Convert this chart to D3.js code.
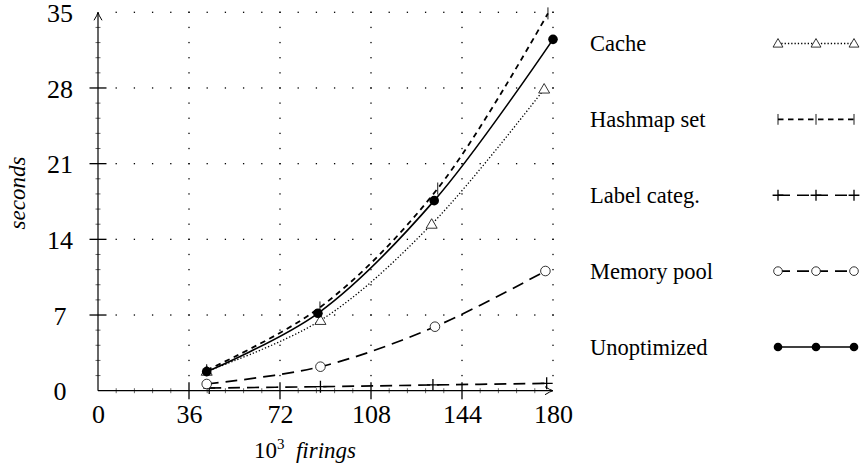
<!DOCTYPE html>
<html>
<head>
<meta charset="utf-8">
<script src="https://cdn.jsdelivr.net/npm/d3@7"></script>
<style>
  body { margin: 0; background: #fff; }
</style>
</head>
<body>
<div id="chart"></div>
<script>
const w = 860,
      h = 467;
const serif = "'Liberation Serif', 'DejaVu Serif', serif";

// data (x in 10^3 firings, y in seconds)
const seriesNames = ["Cache", "Hashmap set", "Label categ.", "Memory pool", "Unoptimized"];
const cacheX = [43, 88, 132, 176.5];
const cacheY = [1.8, 6.5, 15.4, 27.9];
const hashX = [43, 87.8, 134.4, 178];
const hashY = [1.9, 7.7, 18.7, 34.9];
const labelX = [44, 88, 132.5, 177.5];
const labelY = [0.25, 0.37, 0.53, 0.68];
const memX = [43, 88, 133.3, 177];
const memY = [0.62, 2.22, 5.92, 11.07];
const unoptX = [43, 87, 133, 180];
const unoptY = [1.76, 7.16, 17.58, 32.5];

const xTicks = [0, 36, 72, 108, 144, 180];
const yTicks = [0, 7, 14, 21, 28, 35];

const svg = d3.select("#chart")
    .append("svg")
    .attr("width", w)
    .attr("height", h);

const x = d3.scaleLinear().domain([0, 180]).range([98, 553]);
const y = d3.scaleLinear().domain([0, 35]).range([390.7, 12.3]);

// dotted grid: dots at the minor positions along every major line
const grid = svg.append("g");
const xMinor = d3.range(0, 181, 7.2);
const yMinor = d3.range(0, 35.01, 1.4);
yTicks.filter(v => v > 0).forEach(v => {
    grid.selectAll(null).data(xMinor.filter(m => m > 0)).enter()
        .append("rect")
        .attr("x", d => x(d) - 0.65).attr("y", y(v) - 0.65)
        .attr("width", 1.3).attr("height", 1.3).attr("fill", "#000");
});
xTicks.filter(v => v > 0).forEach(v => {
    grid.selectAll(null).data(yMinor.filter(m => m > 0)).enter()
        .append("rect")
        .attr("x", x(v) - 0.65).attr("y", d => y(d) - 0.65)
        .attr("width", 1.3).attr("height", 1.3).attr("fill", "#000");
});

// axes
const ax = svg.append("g").attr("stroke", "#000").attr("fill", "none");
ax.append("line")
    .attr("x1", x(0)).attr("y1", y(0)).attr("x2", x(180)).attr("y2", y(0))
    .attr("stroke-width", 1.2);
ax.append("line")
    .attr("x1", x(0)).attr("y1", y(0)).attr("x2", x(0)).attr("y2", y(35))
    .attr("stroke-width", 1.2);
// arrow heads
ax.append("path")
    .attr("d", `M${x(180) - 8},${y(0) - 4} Q${x(180) - 3},${y(0) - 0.8} ${x(180)},${y(0)} Q${x(180) - 3},${y(0) + 0.8} ${x(180) - 8},${y(0) + 4}`)
    .attr("stroke-width", 1);
ax.append("path")
    .attr("d", `M${x(0) - 4},${y(35) + 8} Q${x(0) - 0.8},${y(35) + 3} ${x(0)},${y(35)} Q${x(0) + 0.8},${y(35) + 3} ${x(0) + 4},${y(35) + 8}`)
    .attr("stroke-width", 1);

// minor ticks
ax.selectAll(null).data(xMinor.filter(m => m > 0 && m < 180 && m % 36 !== 0)).enter()
    .append("line")
    .attr("x1", d => x(d)).attr("x2", d => x(d))
    .attr("y1", y(0) - 2.5).attr("y2", y(0) + 2.5)
    .attr("stroke-width", 0.6);
ax.selectAll(null).data(yMinor.filter(m => m > 0 && m < 35 && Math.abs(m / 7 - Math.round(m / 7)) > 0.01)).enter()
    .append("line")
    .attr("y1", d => y(d)).attr("y2", d => y(d))
    .attr("x1", x(0) - 2.5).attr("x2", x(0) + 2.5)
    .attr("stroke-width", 0.6);

// major ticks crossing the axes
ax.selectAll(null).data(xTicks.filter(v => v > 0 && v < 180)).enter()
    .append("line")
    .attr("x1", d => x(d)).attr("x2", d => x(d))
    .attr("y1", y(0) - 8.5).attr("y2", y(0) + 8.5)
    .attr("stroke-width", 1.3);
ax.selectAll(null).data(yTicks.filter(v => v > 0 && v < 35)).enter()
    .append("line")
    .attr("y1", d => y(d)).attr("y2", d => y(d))
    .attr("x1", x(0) - 8.5).attr("x2", x(0) + 8.5)
    .attr("stroke-width", 1.3);

// tick labels through d3 axes
const xAxis = d3.axisBottom(x).tickValues(xTicks).tickSize(0).tickPadding(0);
svg.append("g")
    .attr("transform", "translate(0," + y(0) + ")")
    .call(xAxis)
    .attr("font-family", serif)
    .call(g => g.select(".domain").remove())
    .call(g => g.selectAll("text")
        .attr("dy", null).attr("y", 32)
        .style("font-family", serif)
        .style("font-size", "26px"));

const yAxis = d3.axisLeft(y).tickValues(yTicks).tickSize(0).tickPadding(0);
svg.append("g")
    .call(yAxis)
    .attr("font-family", serif)
    .call(g => g.select(".domain").remove())
    .call(g => g.selectAll("text")
        .attr("x", 60).attr("dy", "0.35em")
        .attr("text-anchor", "middle")
        .style("font-family", serif)
        .style("font-size", "26px"));

// axis titles
svg.append("text")
    .attr("transform", "translate(25,193) rotate(-90)")
    .attr("text-anchor", "middle")
    .style("font-family", serif)
    .style("font-size", "23px")
    .style("font-style", "italic")
    .text("seconds");

const xt = svg.append("text")
    .attr("x", 305).attr("y", 458)
    .attr("text-anchor", "middle")
    .style("font-family", serif)
    .style("font-size", "23px");
xt.append("tspan").text("10");
xt.append("tspan").attr("dy", -9).style("font-size", "15px").text("3");
xt.append("tspan").attr("dy", 9).style("font-style", "italic").text("\u00a0 firings");

// series
const line = d3.line().curve(d3.curveCatmullRom.alpha(0.5));

const styles = [
    {xs: cacheX, ys: cacheY, dash: "1.3,2", width: 1.3, marker: "tri"},
    {xs: hashX, ys: hashY, dash: "5.5,4.5", width: 1.8, marker: "bar"},
    {xs: labelX, ys: labelY, dash: "12,7", width: 1.7, marker: "plus"},
    {xs: memX, ys: memY, dash: "12,7", width: 1.7, marker: "circ"},
    {xs: unoptX, ys: unoptY, dash: null, width: 1.6, marker: "dot"}
];

function drawMarker(g, type, cx, cy, s) {
    if (type === "tri") {
        g.append("path")
            .attr("d", `M${cx},${cy - 5.5 * s} L${cx + 5.5 * s},${cy + 4 * s} L${cx - 5.5 * s},${cy + 4 * s} Z`)
            .attr("fill", "#fff").attr("stroke", "#000").attr("stroke-width", 0.8);
    } else if (type === "bar") {
        g.append("line")
            .attr("x1", cx).attr("x2", cx).attr("y1", cy - 6 * s).attr("y2", cy + 6 * s)
            .attr("stroke", "#000").attr("stroke-width", 0.9);
    } else if (type === "plus") {
        g.append("path")
            .attr("d", `M${cx - 6 * s},${cy} H${cx + 6 * s} M${cx},${cy - 6 * s} V${cy + 6 * s}`)
            .attr("stroke", "#000").attr("stroke-width", 1.3).attr("fill", "none");
    } else if (type === "circ") {
        g.append("circle").attr("cx", cx).attr("cy", cy).attr("r", 4.8 * s)
            .attr("fill", "#fff").attr("stroke", "#000").attr("stroke-width", 0.8);
    } else {
        g.append("circle").attr("cx", cx).attr("cy", cy).attr("r", 4.8 * s)
            .attr("fill", "#000");
    }
}

const plot = svg.append("g");
styles.forEach(st => {
    const pts = st.xs.map((v, i) => [x(v), y(st.ys[i])]);
    plot.append("path")
        .attr("d", line(pts))
        .attr("fill", "none")
        .attr("stroke", "#000")
        .attr("stroke-width", st.width)
        .attr("stroke-dasharray", st.dash);
    pts.forEach(p => drawMarker(plot, st.marker, p[0], p[1], 1));
});

// legend
const legY = d3.scalePoint().domain(seriesNames).range([43.5, 347]);
const legX = [778, 816, 854];
const leg = svg.append("g");
seriesNames.forEach((name, i) => {
    const st = styles[i];
    const ly = legY(name);
    leg.append("text")
        .attr("x", 590).attr("y", ly + 7.5)
        .style("font-family", serif)
        .style("font-size", "22.5px")
        .text(name);
    leg.append("line")
        .attr("x1", legX[0]).attr("x2", legX[2])
        .attr("y1", ly).attr("y2", ly)
        .attr("stroke", "#000")
        .attr("stroke-width", st.width)
        .attr("stroke-dasharray", st.dash);
    legX.forEach(lx => drawMarker(leg, st.marker, lx, ly, 0.9));
});
</script>
</body>
</html>
